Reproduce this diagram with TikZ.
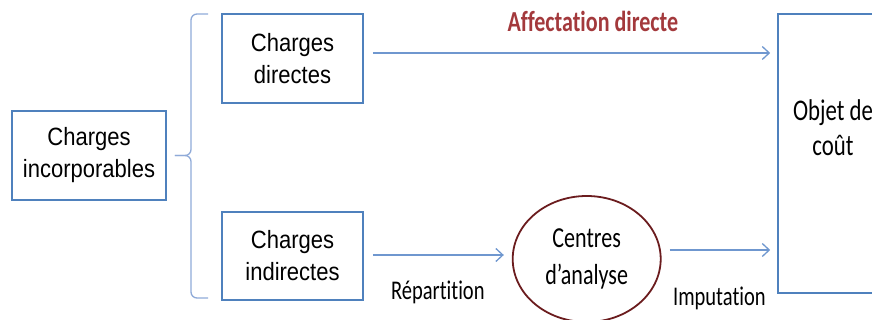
\documentclass[tikz,border=0pt]{standalone}
\usepackage{fontspec}
\setmainfont{Liberation Sans}[FakeStretch=0.88]
\newfontfamily\calib{Carlito}[FakeStretch=0.76,Ligatures=NoCommon]
\usetikzlibrary{positioning}
\usetikzlibrary{shapes.geometric, arrows.meta}
\definecolor{boxblue}{HTML}{4F81BD}
\definecolor{arrblue}{HTML}{6F97CF}
\definecolor{bracblue}{HTML}{8FAAD8}
\definecolor{darkred}{HTML}{6B1C1E}
\definecolor{labred}{HTML}{A3393C}

\begin{document}
\begin{tikzpicture}[x=1pt,y=-1pt,>={Straight Barb[length=7pt,width=13pt]},
	box/.style={shape=rectangle,draw=boxblue,line width=1.6pt,align=center,inner sep=0pt,font=\fontsize{25}{32}\selectfont},
	arr/.style={->,draw=arrblue,line width=1.3pt},
	lbl/.style={inner sep=0pt,font=\calib\fontsize{27}{30}\selectfont},
	brace/.style={draw=bracblue,line width=1.3pt,rounded corners=6pt},
	node distance=148pt]
	\useasboundingbox (0,0) rectangle (872,320);
	% create the nodes
	\node[box,minimum width=154pt,minimum height=89pt] (inc) at (89,155.5) {Charges\\incorporables};
	\node[box,minimum width=141pt,minimum height=89pt] (dir) at (292.5,58.5) {Charges\\directes};
	\node[box,minimum width=141pt,minimum height=88pt] (ind) at (292.5,256) {Charges\\indirectes};
	\node[ellipse,draw=darkred,line width=1.8pt,minimum width=148pt,minimum height=126pt,inner sep=0pt,align=center,font=\calib\fontsize{29}{37}\selectfont] (ctr)[right =of ind,yshift=-3pt] {Centres\\d’analyse};
	\node[box,minimum width=110pt,minimum height=279pt] (obj) at (833,153.5) {};
	\node[lbl,align=center,font=\calib\fontsize{30}{35}\selectfont] (objtxt) at ([yshift=26pt]obj.center) {Objet de\\coût};
	% the brace
	\coordinate (bt) at (208,14);
	\coordinate (bb) at (208,298);
	\coordinate (bm) at ([xshift=8pt]inc.east);
	\draw[brace] (bt) -- (191,14) -- (191,155.5) -- (bm);
	\draw[brace] (bm) -- (191,155.5) -- (191,298) -- (bb);
	% the arrows
	\draw[arr,shorten <=9pt,shorten >=7pt] ([yshift=5.5pt]dir.east) -- ([yshift=5.5pt]dir.east -| obj.west)
		node[lbl,pos=0.554,anchor=base,yshift=21pt,font=\calib\bfseries\fontsize{29}{30}\selectfont,text=labred] (aff) {Affectation directe};
	\draw[arr,shorten <=9pt,shorten >=8pt] ([yshift=1pt]ind.east) -- ([yshift=1pt]ind.east -| ctr.west)
		node[lbl,midway,anchor=base,yshift=-44pt] (rep) {Répartition};
	\draw[arr,shorten <=8pt,shorten >=7pt] ([yshift=9pt]ctr.east) -- ([yshift=9pt]ctr.east -| obj.west)
		node[lbl,midway,anchor=base,yshift=-55pt] (imp) {Imputation};
\end{tikzpicture}
\end{document}
